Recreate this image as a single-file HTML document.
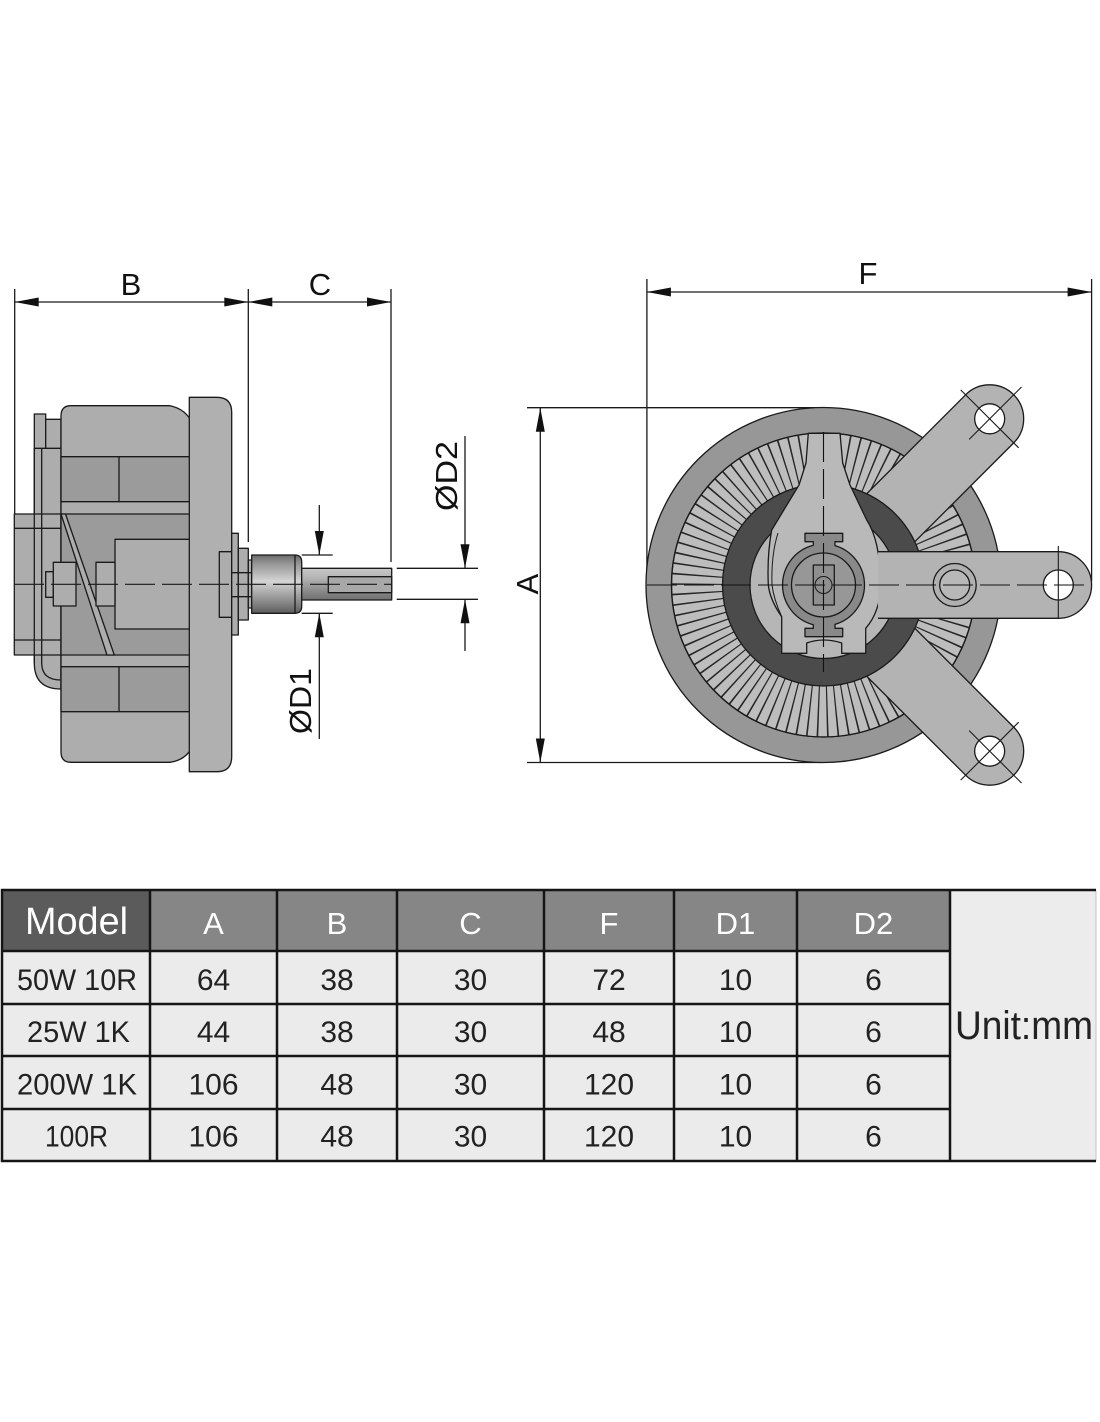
<!DOCTYPE html>
<html><head><meta charset="utf-8">
<style>
html,body{margin:0;padding:0;background:#fff;}
svg{display:block;}
text{font-family:"Liberation Sans",Arial,sans-serif;}
</style></head><body>
<svg width="1100" height="1422" viewBox="0 0 1100 1422" xmlns="http://www.w3.org/2000/svg">
<defs>
 <linearGradient id="bush" x1="0" y1="0" x2="0" y2="1">
  <stop offset="0" stop-color="#6a6a6a"/>
  <stop offset="0.15" stop-color="#969696"/>
  <stop offset="0.45" stop-color="#d4d4d4"/>
  <stop offset="0.8" stop-color="#8a8a8a"/>
  <stop offset="1" stop-color="#5c5c5c"/>
 </linearGradient>
 <linearGradient id="shaft" x1="0" y1="0" x2="0" y2="1">
  <stop offset="0" stop-color="#c8c8c8"/>
  <stop offset="0.3" stop-color="#b4b4b4"/>
  <stop offset="0.7" stop-color="#8c8c8c"/>
  <stop offset="1" stop-color="#707070"/>
 </linearGradient>
</defs>
<rect x="0" y="0" width="1100" height="1422" fill="#fff"/>

<!-- ================= LEFT SIDE VIEW ================= -->
<g stroke="#1a1a1a" stroke-width="1.3">
 <line x1="14.7" y1="289" x2="14.7" y2="514"/>
 <line x1="248.3" y1="289" x2="248.3" y2="542"/>
 <line x1="391" y1="289" x2="391" y2="562"/>
 <line x1="14.7" y1="302" x2="391" y2="302"/>
</g>
<g fill="#111">
 <polygon points="14.7,302 38.7,297.5 38.7,306.5"/>
 <polygon points="248.3,302 224.3,297.5 224.3,306.5"/>
 <polygon points="248.3,302 272.3,297.5 272.3,306.5"/>
 <polygon points="391,302 367,297.5 367,306.5"/>
</g>
<text x="131" y="295" font-size="31" text-anchor="middle" fill="#111">B</text>
<text x="320" y="295" font-size="31" text-anchor="middle" fill="#111">C</text>

<g stroke="#1a1a1a" stroke-width="1.3" stroke-linejoin="round">
 <path d="M34.3,448.3 L61,448.3 L61,689 Q34.3,689 34.3,663 Z" fill="#adadad"/>
 <rect x="14.3" y="514" width="46.7" height="141" fill="#adadad"/>
 <line x1="14.3" y1="528.3" x2="61" y2="528.3"/>
 <line x1="14.3" y1="640" x2="61" y2="640"/>
 <path d="M41.7,448.3 L41.7,663 Q41.7,680 61,680" fill="none"/>
 <line x1="34.3" y1="448.3" x2="34.3" y2="663"/>
 <rect x="34.3" y="414" width="11.4" height="34.3" fill="#adadad"/>
 <rect x="45.7" y="419.3" width="15.3" height="29" fill="#adadad"/>
 <path d="M71,405.7 L170,405.7 Q186,409 192.3,423.3 L192.3,746.7 Q186,760 170,762.3 L71,762.3 Q61,762.3 61,752 L61,416 Q61,405.7 71,405.7 Z" fill="#adadad"/>
 <rect x="61" y="456.7" width="131.3" height="45" fill="#9b9b9b"/>
 <line x1="119" y1="456.7" x2="119" y2="501.7"/>
 <rect x="61" y="514" width="131.3" height="141" fill="#9b9b9b"/>
 <rect x="115" y="539.3" width="77.3" height="89.7" fill="#adadad"/>
 <rect x="61" y="666.7" width="131.3" height="45" fill="#9b9b9b"/>
 <line x1="119" y1="666.7" x2="119" y2="711.7"/>
 <polygon points="61,514 65.5,514 114.3,655 107,655" fill="#adadad"/>
 <rect x="45.7" y="571.7" width="7.6" height="25.6" fill="#adadad"/>
 <rect x="53.3" y="562.3" width="22.7" height="43.7" fill="#adadad"/>
 <rect x="96" y="562.3" width="19" height="43.7" fill="#adadad"/>
 <path d="M189.3,397.3 L216.7,397.3 Q231.7,397.3 231.7,412.3 L231.7,756.7 Q231.7,771.7 216.7,771.7 L189.3,771.7 Z" fill="#b0b0b0"/>
 <rect x="219.3" y="551.7" width="12.4" height="65.6" fill="#adadad"/>
 <rect x="231.7" y="533.3" width="6.6" height="101.7" fill="#adadad"/>
 <rect x="238.3" y="548.3" width="10" height="71.7" fill="#adadad"/>
 <rect x="248.3" y="560" width="3.4" height="48" fill="#adadad"/>
 <line x1="231.7" y1="572.7" x2="251.7" y2="572.7"/>
 <line x1="231.7" y1="596.7" x2="251.7" y2="596.7"/>
 <path d="M251.7,555 L295,555 Q301.7,555 301.7,562 L301.7,606.3 Q301.7,613.3 295,613.3 L251.7,613.3 Z" fill="url(#bush)"/>
 <line x1="295" y1="555" x2="295" y2="613.3"/>
 <rect x="301.7" y="568.3" width="90" height="31.7" fill="url(#shaft)"/>
 <rect x="328.3" y="576.7" width="63.4" height="16" fill="#a8a8a8"/>
</g>
<line x1="14" y1="584.3" x2="392" y2="584.3" stroke="#1a1a1a" stroke-width="1.1" stroke-dasharray="30 7"/>

<g stroke="#1a1a1a" stroke-width="1.3">
 <line x1="319.3" y1="505" x2="319.3" y2="555"/>
 <line x1="319.3" y1="613.3" x2="319.3" y2="739"/>
 <line x1="301.7" y1="555" x2="332.7" y2="555"/>
 <line x1="301.7" y1="613.3" x2="332.7" y2="613.3"/>
 <line x1="465" y1="436" x2="465" y2="568.3"/>
 <line x1="465" y1="599.3" x2="465" y2="651"/>
 <line x1="396.7" y1="568.3" x2="478" y2="568.3"/>
 <line x1="396.7" y1="599.3" x2="478" y2="599.3"/>
</g>
<g fill="#111">
 <polygon points="319.3,555 314.8,531 323.8,531"/>
 <polygon points="319.3,613.3 314.8,637.3 323.8,637.3"/>
 <polygon points="465,568.3 460.5,544.3 469.5,544.3"/>
 <polygon points="465,599.3 460.5,623.3 469.5,623.3"/>
</g>
<text transform="translate(311,701) rotate(-90)" font-size="31" text-anchor="middle" fill="#111" textLength="66" lengthAdjust="spacingAndGlyphs">ØD1</text>
<text transform="translate(457,476) rotate(-90)" font-size="31" text-anchor="middle" fill="#111" textLength="70" lengthAdjust="spacingAndGlyphs">ØD2</text>

<!-- ================= RIGHT FRONT VIEW ================= -->
<g stroke="#1a1a1a" stroke-width="1.3">
 <line x1="646.9" y1="279" x2="646.9" y2="585"/>
 <line x1="1091.6" y1="279" x2="1091.6" y2="581"/>
 <line x1="646.9" y1="292" x2="1091.6" y2="292"/>
 <line x1="527" y1="407.7" x2="823" y2="407.7"/>
 <line x1="527" y1="762.5" x2="823" y2="762.5"/>
 <line x1="540.3" y1="407.7" x2="540.3" y2="762.5"/>
</g>
<g fill="#111">
 <polygon points="646.9,292 670.9,287.5 670.9,296.5"/>
 <polygon points="1091.6,292 1067.6,287.5 1067.6,296.5"/>
 <polygon points="540.3,407.7 535.8,431.7 544.8,431.7"/>
 <polygon points="540.3,762.5 535.8,738.5 544.8,738.5"/>
</g>
<text x="868" y="284" font-size="31" text-anchor="middle" fill="#111">F</text>
<text transform="translate(538,584) rotate(-90)" font-size="31" text-anchor="middle" fill="#111">A</text>

<g stroke="#1a1a1a" stroke-width="1.3" stroke-linejoin="round">
 <circle cx="823.5" cy="585" r="177.5" fill="#979797"/>
 <circle cx="823.5" cy="585" r="152" fill="#bdbdbd"/>
</g>
<circle cx="823.5" cy="585" r="126.5" fill="none" stroke="#262626" stroke-width="51" stroke-dasharray="1.4 7.43"/>
<circle cx="823.5" cy="585" r="152" fill="none" stroke="#1a1a1a" stroke-width="1.3"/>

<g stroke="#1a1a1a" stroke-width="1.3" fill="#b3b3b3">
 <g transform="translate(823.5,585) rotate(-45)">
  <path d="M60,-34 L235,-34 A34,34 0 0 1 235,34 L60,34 Z"/>
  <circle cx="235" cy="0" r="15" fill="#fff"/>
  <line x1="206" y1="0" x2="280" y2="0" stroke-width="1.1"/>
  <line x1="235" y1="-41" x2="235" y2="41" stroke-width="1.1"/>
 </g>
 <g transform="translate(823.5,585) rotate(45)">
  <path d="M60,-34 L235,-34 A34,34 0 0 1 235,34 L60,34 Z"/>
  <circle cx="235" cy="0" r="15" fill="#fff"/>
  <line x1="206" y1="0" x2="280" y2="0" stroke-width="1.1"/>
  <line x1="235" y1="-41" x2="235" y2="41" stroke-width="1.1"/>
 </g>
</g>

<g stroke="#1a1a1a" stroke-width="1.3" stroke-linejoin="round">
 <circle cx="823.5" cy="585" r="101" fill="#4b4b4b"/>
 <circle cx="823.5" cy="585" r="73.5" fill="#b6b6b6"/>
 <path d="M808.3,433.3 L840,433.3 L842.7,463 L850,485 L866.7,520 Q880,540 881,585 Q880,612 865.7,628.3 L865.7,653.3 L841.7,653.3 L841.7,643 Q823.5,637 806.7,643 L806.7,653.3 L781.7,653.3 L781.7,616.7 Q770,600 768.3,585 Q767,555 771.7,530 L799,485 L806,463 Z" fill="#b9b9b9"/>
 <path d="M781.7,616.7 Q774,600 772,585 Q771,555 778,533" fill="none" stroke-width="1"/>
 <path d="M878,551.7 L1058.3,551.7 A33.3,33.3 0 0 1 1058.3,618.3 L878,618.3" fill="#b3b3b3"/>
 <circle cx="954.7" cy="585" r="21.5" fill="#b0b0b0"/>
 <circle cx="954.7" cy="585" r="15" fill="#b8b8b8"/>
 <circle cx="1058.3" cy="585" r="15" fill="#fff"/>
 <line x1="1058.3" y1="546" x2="1058.3" y2="619" stroke-width="1.1"/>
 <path d="M805,533.3 L842.7,533.3 L842.7,541.7 L835,541.7 L835,545.65 A41,41 0 0 1 835,624.35 L835,628.3 L842.7,628.3 L842.7,636.7 L805,636.7 L805,628.3 L813.3,628.3 L813.3,624.7 A41,41 0 0 1 813.3,545.3 L813.3,541.7 L805,541.7 Z" fill="#898989"/>
 <circle cx="823.5" cy="585" r="32" fill="#979797"/>
 <rect x="813.3" y="565" width="21" height="40" fill="#8f8f8f"/>
 <circle cx="823.5" cy="585" r="8.5" fill="none" stroke-width="1"/>
</g>
<g stroke="#111" stroke-width="1.1" stroke-dasharray="30 7">
 <line x1="647" y1="585" x2="1092" y2="585"/>
 <line x1="823.5" y1="432" x2="823.5" y2="672"/>
</g>

<!-- ================= TABLE ================= -->
<rect x="2" y="890" width="148" height="61" fill="#5b5b5b"/>
<rect x="150" y="890" width="800" height="61" fill="#868686"/>
<rect x="2" y="951" width="948" height="210" fill="#ebebeb"/>
<rect x="950" y="890" width="146" height="271" fill="#ececec"/>
<line x1="1096" y1="890" x2="1096" y2="1161" stroke="#c4c4c4" stroke-width="1"/>
<g stroke="#151515" stroke-width="2.5">
 <line x1="1" y1="890" x2="1096" y2="890"/>
 <line x1="1" y1="1161" x2="1096" y2="1161"/>
 <line x1="2" y1="951" x2="950" y2="951"/>
 <line x1="2" y1="1004" x2="950" y2="1004"/>
 <line x1="2" y1="1056" x2="950" y2="1056"/>
 <line x1="2" y1="1109" x2="950" y2="1109"/>
 <line x1="2" y1="889" x2="2" y2="1162"/>
 <line x1="150" y1="889" x2="150" y2="1162"/>
 <line x1="277" y1="889" x2="277" y2="1162"/>
 <line x1="397" y1="889" x2="397" y2="1162"/>
 <line x1="544" y1="889" x2="544" y2="1162"/>
 <line x1="674" y1="889" x2="674" y2="1162"/>
 <line x1="797" y1="889" x2="797" y2="1162"/>
 <line x1="950" y1="889" x2="950" y2="1162"/>
</g>
<g fill="#fff" text-anchor="middle">
 <text x="76.5" y="934" font-size="38" textLength="103" lengthAdjust="spacingAndGlyphs">Model</text>
 <text x="213.5" y="934" font-size="31">A</text>
 <text x="337" y="934" font-size="31">B</text>
 <text x="470.5" y="934" font-size="31">C</text>
 <text x="609" y="934" font-size="31">F</text>
 <text x="735.5" y="934" font-size="31">D1</text>
 <text x="873.5" y="934" font-size="31">D2</text>
</g>
<g fill="#222" text-anchor="middle" font-size="30">
 <text x="77" y="990" textLength="120" lengthAdjust="spacingAndGlyphs">50W 10R</text>
 <text x="213.5" y="990">64</text>
 <text x="337" y="990">38</text>
 <text x="470.5" y="990">30</text>
 <text x="609" y="990">72</text>
 <text x="735.5" y="990">10</text>
 <text x="873.5" y="990">6</text>

 <text x="78.5" y="1042" textLength="103" lengthAdjust="spacingAndGlyphs">25W 1K</text>
 <text x="213.5" y="1042">44</text>
 <text x="337" y="1042">38</text>
 <text x="470.5" y="1042">30</text>
 <text x="609" y="1042">48</text>
 <text x="735.5" y="1042">10</text>
 <text x="873.5" y="1042">6</text>

 <text x="77" y="1094.5" textLength="120" lengthAdjust="spacingAndGlyphs">200W 1K</text>
 <text x="213.5" y="1094.5">106</text>
 <text x="337" y="1094.5">48</text>
 <text x="470.5" y="1094.5">30</text>
 <text x="609" y="1094.5">120</text>
 <text x="735.5" y="1094.5">10</text>
 <text x="873.5" y="1094.5">6</text>

 <text x="76.5" y="1146.5" textLength="63" lengthAdjust="spacingAndGlyphs">100R</text>
 <text x="213.5" y="1146.5">106</text>
 <text x="337" y="1146.5">48</text>
 <text x="470.5" y="1146.5">30</text>
 <text x="609" y="1146.5">120</text>
 <text x="735.5" y="1146.5">10</text>
 <text x="873.5" y="1146.5">6</text>
</g>
<text x="1024" y="1039" font-size="40" text-anchor="middle" fill="#222" textLength="138" lengthAdjust="spacingAndGlyphs">Unit:mm</text>
</svg>
</body></html>
